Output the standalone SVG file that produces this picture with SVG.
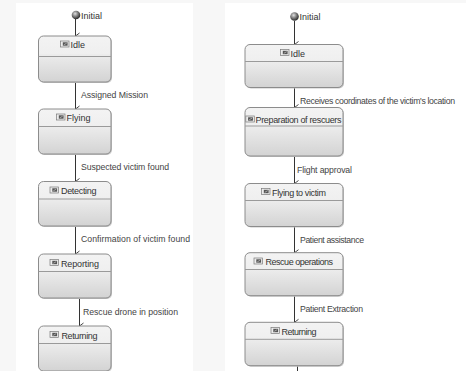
<svg xmlns="http://www.w3.org/2000/svg" width="466" height="371" viewBox="0 0 466 371">
<defs>
<linearGradient id="boxfill" x1="0" y1="0" x2="0" y2="1">
<stop offset="0" stop-color="#f3f3f3"/>
<stop offset="0.38" stop-color="#efefef"/>
<stop offset="0.4" stop-color="#ececec"/>
<stop offset="1" stop-color="#d3d3d3"/>
</linearGradient>
<radialGradient id="ball" cx="0.4" cy="0.35" r="0.65">
<stop offset="0" stop-color="#e0e0e0"/>
<stop offset="0.5" stop-color="#808080"/>
<stop offset="1" stop-color="#2a2a2a"/>
</radialGradient>
<marker id="arr" markerWidth="8" markerHeight="6" refX="4" refY="5" orient="auto-start-reverse" markerUnits="userSpaceOnUse" viewBox="0 0 8 6">
<path d="M1,1 L4,5 L7,1" fill="none" stroke="#333" stroke-width="0.9"/>
</marker>
<g id="icon">
<rect x="0" y="0" width="8.5" height="6" fill="#ececec" stroke="#7a7a7a" stroke-width="0.7"/>
<rect x="2.3" y="1.3" width="4.8" height="3.4" fill="#555"/>
<path d="M3.3,3.8 L6.2,2.2" stroke="#ddd" stroke-width="0.6"/>
</g>
</defs>
<style>
.box{fill:url(#boxfill);stroke:#8c8c8c;stroke-width:1}
.shadow{fill:#c8c8c8}
.sep{stroke:#9a9a9a;stroke-width:1}
.nl{font-family:"Liberation Sans",Arial,sans-serif;font-size:9px;fill:#333}
.tl{font-family:"Liberation Sans",Arial,sans-serif;font-size:8.7px;fill:#444}
.edge{stroke:#333;stroke-width:1;fill:none}
</style>
<rect x="0" y="0" width="466" height="371" fill="#f7f7f7"/>
<rect x="16" y="3" width="177" height="368" fill="#ffffff"/>
<rect x="225" y="3" width="241" height="368" fill="#ffffff"/>

<g id="connectors">
<line class="edge" x1="75.5" y1="19" x2="75.5" y2="36" marker-end="url(#arr)"/>
<line class="edge" x1="75.5" y1="82" x2="75.5" y2="109" marker-end="url(#arr)"/>
<line class="edge" x1="75.5" y1="154" x2="75.5" y2="181.5" marker-end="url(#arr)"/>
<line class="edge" x1="75.5" y1="226" x2="75.5" y2="254" marker-end="url(#arr)"/>
<line class="edge" x1="79.5" y1="298" x2="79.5" y2="326" marker-end="url(#arr)"/>
<text class="tl" x="81" y="98" textLength="67">Assigned Mission</text>
<text class="tl" x="81" y="170" textLength="88">Suspected victim found</text>
<text class="tl" x="81" y="242" textLength="109">Confirmation of victim found</text>
<text class="tl" x="83" y="315" textLength="95">Rescue drone in position</text>

<line class="edge" x1="294.5" y1="21" x2="294.5" y2="44.5" marker-end="url(#arr)"/>
<line class="edge" x1="294.5" y1="88" x2="294.5" y2="107.5" marker-end="url(#arr)"/>
<line class="edge" x1="294.5" y1="156" x2="294.5" y2="183.5" marker-end="url(#arr)"/>
<line class="edge" x1="294.5" y1="227" x2="294.5" y2="252.7" marker-end="url(#arr)"/>
<line class="edge" x1="294.5" y1="296" x2="294.5" y2="322.3" marker-end="url(#arr)"/>
<line class="edge" x1="297.5" y1="366" x2="297.5" y2="371"/>
<text class="tl" x="300" y="104" textLength="155">Receives coordinates of the victim's location</text>
<text class="tl" x="297" y="173" textLength="55">Flight approval</text>
<text class="tl" x="300" y="242.5" textLength="64">Patient assistance</text>
<text class="tl" x="300" y="312" textLength="63">Patient Extraction</text>
</g>

<g id="initial-left">
<circle cx="76" cy="15" r="4.3" fill="url(#ball)"/>
<text class="nl" x="81" y="18.5">Initial</text>
</g>
<g id="idle-left">
<rect class="shadow" x="39.5" y="37" width="72.5" height="46" rx="5"/>
<rect class="box" x="38.5" y="36" width="72.5" height="46" rx="5"/>
<line class="sep" x1="38.5" y1="56.5" x2="111" y2="56.5"/>
<use href="#icon" x="60.5" y="41"/>
<text class="nl" x="70.5" y="48">Idle</text>
</g>
<g id="flying-left">
<rect class="shadow" x="39.5" y="110" width="72.5" height="45" rx="5"/>
<rect class="box" x="38.5" y="109" width="72.5" height="45" rx="5"/>
<line class="sep" x1="38.5" y1="126.5" x2="111" y2="126.5"/>
<use href="#icon" x="56.5" y="114"/>
<text class="nl" x="66.5" y="121">Flying</text>
</g>
<g id="detecting-left">
<rect class="shadow" x="39.5" y="182.5" width="72.5" height="44.5" rx="5"/>
<rect class="box" x="38.5" y="181.5" width="72.5" height="44.5" rx="5"/>
<line class="sep" x1="38.5" y1="199" x2="111" y2="199"/>
<use href="#icon" x="50" y="187"/>
<text class="nl" x="61" y="194" textLength="35.5">Detecting</text>
</g>
<g id="reporting-left">
<rect class="shadow" x="39.5" y="255" width="72.5" height="44" rx="5"/>
<rect class="box" x="38.5" y="254" width="72.5" height="44" rx="5"/>
<line class="sep" x1="38.5" y1="271.5" x2="111" y2="271.5"/>
<use href="#icon" x="50" y="259.5"/>
<text class="nl" x="61" y="266.5" textLength="38">Reporting</text>
</g>
<g id="returning-left">
<rect class="shadow" x="39.5" y="327" width="72.5" height="45" rx="5"/>
<rect class="box" x="38.5" y="326" width="72.5" height="45" rx="5"/>
<line class="sep" x1="38.5" y1="343.5" x2="111" y2="343.5"/>
<use href="#icon" x="50" y="331.5"/>
<text class="nl" x="61.5" y="338.5" textLength="36">Returning</text>
</g>

<g id="initial-right">
<circle cx="294.5" cy="16.5" r="4.3" fill="url(#ball)"/>
<text class="nl" x="299.5" y="20">Initial</text>
</g>
<g id="idle-right">
<rect class="shadow" x="246" y="45.5" width="98" height="43" rx="5"/>
<rect class="box" x="245" y="44.5" width="98" height="43" rx="5"/>
<line class="sep" x1="245" y1="61.5" x2="343" y2="61.5"/>
<use href="#icon" x="280.5" y="49.5"/>
<text class="nl" x="290.5" y="56.5">Idle</text>
</g>
<g id="preparation-right">
<rect class="shadow" x="246" y="108.5" width="98" height="48.5" rx="5"/>
<rect class="box" x="245" y="107.5" width="98" height="48.5" rx="5"/>
<line class="sep" x1="245" y1="126" x2="343" y2="126"/>
<use href="#icon" x="245.8" y="116"/>
<text class="nl" x="255.5" y="123" textLength="86">Preparation of rescuers</text>
</g>
<g id="flying-right">
<rect class="shadow" x="246" y="184.5" width="98" height="43" rx="5"/>
<rect class="box" x="245" y="183.5" width="98" height="43" rx="5"/>
<line class="sep" x1="245" y1="200.5" x2="343" y2="200.5"/>
<use href="#icon" x="261.5" y="188.5"/>
<text class="nl" x="272" y="195.5" textLength="54">Flying to victim</text>
</g>
<g id="rescue-right">
<rect class="shadow" x="246" y="253.7" width="98" height="43" rx="5"/>
<rect class="box" x="245" y="252.7" width="98" height="43" rx="5"/>
<line class="sep" x1="245" y1="269.5" x2="343" y2="269.5"/>
<use href="#icon" x="254" y="258"/>
<text class="nl" x="265.5" y="265" textLength="67.5">Rescue operations</text>
</g>
<g id="returning-right">
<rect class="shadow" x="246" y="323.3" width="98" height="43.4" rx="5"/>
<rect class="box" x="245" y="322.3" width="98" height="43.4" rx="5"/>
<line class="sep" x1="245" y1="339.3" x2="343" y2="339.3"/>
<use href="#icon" x="271" y="327.5"/>
<text class="nl" x="281.5" y="334.5" textLength="35">Returning</text>
</g>
</svg>
